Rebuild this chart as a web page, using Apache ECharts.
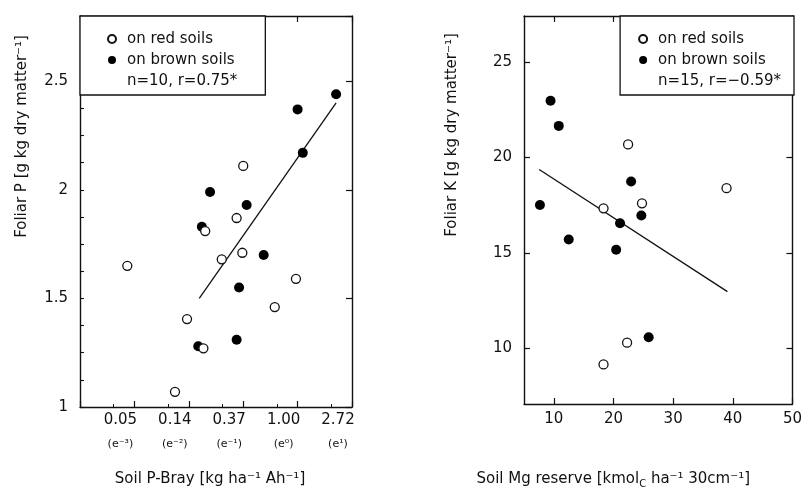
<!DOCTYPE html>
<html>
<head>
<meta charset="utf-8">
<script src="https://cdn.jsdelivr.net/npm/echarts@6/dist/echarts.min.js"></script>
<style>
  html, body { margin: 0; background: #fff; }
  #chart { width: 805px; height: 494px; }
</style>
</head>
<body>
<div id="chart"></div>
<script>
// Left panel: foliar P vs soil P-Bray (kg/ha, natural log axis)
const pRedSoils = [
  [0.368, 2.11], [0.326, 1.87], [0.183, 1.81], [0.248, 1.68], [0.362, 1.71],
  [0.0437, 1.65], [0.970, 1.59], [0.657, 1.46], [0.131, 1.405], [0.177, 1.27],
  [0.105, 1.07]
]
const pBrownSoils = [
  [2.03, 2.44], [1.00, 2.37], [1.10, 2.17], [0.200, 1.99], [0.392, 1.93],
  [0.172, 1.83], [0.536, 1.70], [0.341, 1.55], [0.161, 1.28], [0.326, 1.31]
]
const pFitLine = [[0.164, 1.50], [2.03, 2.40]]
const pBrayTicks = ['0.05', '0.14', '0.37', '1.00', '2.72']
const pBrayPowers = ['⁻³', '⁻²', '⁻¹', '⁰', '¹']

// Right panel: foliar K vs soil Mg reserve
const kRedSoils = [
  [22.45, 20.68], [38.95, 18.39], [18.33, 17.34], [24.78, 17.60],
  [22.28, 10.31], [18.33, 9.17]
]
const kBrownSoils = [
  [9.45, 22.97], [10.83, 21.65], [22.95, 18.74], [7.67, 17.51], [24.67, 16.96],
  [21.1, 16.56], [12.5, 15.71], [20.45, 15.17], [25.9, 10.59]
]
const kFitLine = [[7.55, 19.37], [39.1, 12.98]]
const mgTicks = [10, 20, 30, 40, 50]
const kTicks = [10, 15, 20, 25]

const FONT = 'DejaVu Sans'
const INK = '#111'
const line = { show: true, lineStyle: { color: INK, width: 1.4 } }
const textStyle = { fontFamily: FONT, color: INK, fontSize: 15 }

const chart = echarts.init(document.getElementById('chart'))

const openDot = {
  type: 'scatter', symbol: 'circle', symbolSize: 9,
  itemStyle: { color: '#fff', borderColor: INK, borderWidth: 1.3, opacity: 1 }, z: 3
}
const fullDot = {
  type: 'scatter', symbol: 'circle', symbolSize: 10,
  itemStyle: { color: '#000', opacity: 1 }, z: 2
}
const fit = {
  type: 'line', symbol: 'none', lineStyle: { color: INK, width: 1.3 },
  itemStyle: { color: INK }, z: 1
}

const legendBase = {
  orient: 'vertical',
  itemWidth: 20, itemHeight: 8, itemGap: 5,
  borderColor: INK, borderWidth: 1.3, borderRadius: 0,
  backgroundColor: '#fff',
  textStyle: { fontFamily: FONT, color: INK, fontSize: 15, lineHeight: 16 },
  selectedMode: false,
  data: [
    { name: 'on red soils' },
    { name: 'on brown soils' }
  ]
}

const option = {
  animation: false,
  textStyle: { fontFamily: FONT },
  grid: [
    { left: 80, top: 16, width: 272, height: 391 },
    { left: 524, top: 16, width: 270, height: 390 }
  ],
  legend: [
    Object.assign({}, legendBase, {
      left: 80, top: 16, padding: [15, 28, 6, 22],
      data: legendBase.data.concat([{ name: 'n=10, r=0.75*', icon: 'none' }])
    }),
    Object.assign({}, legendBase, {
      right: 11, top: 16, padding: [15, 13, 6, 13],
      data: legendBase.data.concat([{ name: 'n=15, r=−0.59*', icon: 'none' }])
    })
  ],
  xAxis: [
    {
      gridIndex: 0, type: 'log', logBase: Math.E,
      min: Math.exp(-4), max: Math.E, interval: 1,
      axisLine: line,
      axisTick: { inside: true, length: 6, lineStyle: { color: INK, width: 1.2 } },
      minorTick: { show: true, splitNumber: 2, length: 3, lineStyle: { color: INK, width: 1 } },
      splitLine: { show: false },
      axisLabel: {
        showMinLabel: false, margin: 5, align: 'center', padding: [0, 28, 0, 0],
        formatter: v => {
          const i = Math.round(Math.log(v)) + 3
          return '{a|' + pBrayTicks[i] + '}\n{b|(e' + pBrayPowers[i] + ')}'
        },
        rich: {
          a: { fontFamily: FONT, color: INK, fontSize: 15, lineHeight: 16 },
          b: { fontFamily: FONT, color: INK, fontSize: 11, lineHeight: 32 }
        }
      },
      name: 'Soil P-Bray [kg ha⁻¹ Ah⁻¹]', nameLocation: 'middle', nameGap: 65,
      nameTextStyle: Object.assign({}, textStyle, { padding: [0, 12, 0, 0] })
    },
    {
      gridIndex: 0, type: 'log', logBase: Math.E, position: 'top',
      min: Math.exp(-4), max: Math.E, interval: 1,
      axisLine: line,
      axisTick: { inside: true, length: 6, lineStyle: { color: INK, width: 1.2 } },
      axisLabel: { show: false }, splitLine: { show: false }
    },
    {
      gridIndex: 1, type: 'value', min: 5, max: 50,
      axisLine: line,
      axisTick: { inside: true, length: 6, customValues: mgTicks, lineStyle: { color: INK, width: 1.2 } },
      axisLabel: Object.assign({}, textStyle, { customValues: mgTicks, margin: 8 }),
      splitLine: { show: false },
      name: 'Soil Mg reserve [kmol{sub|C} ha⁻¹ 30cm⁻¹]', nameLocation: 'middle', nameGap: 66,
      nameTextStyle: Object.assign({}, textStyle, {
        padding: [0, 90, 0, 0],
        rich: { sub: { fontFamily: FONT, color: INK, fontSize: 10, padding: [9, 0, 0, 0] } }
      })
    },
    {
      gridIndex: 1, type: 'value', min: 5, max: 50, position: 'top',
      axisLine: line,
      axisTick: { inside: true, length: 6, customValues: mgTicks, lineStyle: { color: INK, width: 1.2 } },
      axisLabel: { show: false }, splitLine: { show: false }
    }
  ],
  yAxis: [
    {
      gridIndex: 0, type: 'value', min: 1, max: 2.8, interval: 0.125,
      axisLine: line,
      axisTick: { inside: true, length: 4, lineStyle: { color: INK, width: 1.1 } },
      axisLabel: Object.assign({}, textStyle, {
        margin: 12,
        formatter: v => (Math.abs(v * 2 - Math.round(v * 2)) < 1e-6 && v < 2.75 ? String(v) : '')
      }),
      splitLine: { show: false },
      name: 'Foliar P [g kg dry matter⁻¹]', nameLocation: 'middle', nameGap: 50,
      nameTextStyle: Object.assign({}, textStyle, { padding: [0, 0, 0, 150] })
    },
    {
      gridIndex: 0, type: 'value', min: 1, max: 2.8, interval: 0.5, position: 'right',
      axisLine: line,
      axisTick: { inside: true, length: 6, lineStyle: { color: INK, width: 1.2 } },
      axisLabel: { show: false }, splitLine: { show: false }
    },
    {
      gridIndex: 1, type: 'value', min: 7.1, max: 27.4,
      axisLine: line,
      axisTick: { inside: true, length: 6, customValues: kTicks, lineStyle: { color: INK, width: 1.2 } },
      axisLabel: Object.assign({}, textStyle, { customValues: kTicks, margin: 12 }),
      splitLine: { show: false },
      name: 'Foliar K [g kg dry matter⁻¹]', nameLocation: 'middle', nameGap: 64,
      nameTextStyle: Object.assign({}, textStyle, { padding: [0, 0, 0, 150] })
    },
    {
      gridIndex: 1, type: 'value', min: 7.1, max: 27.4, position: 'right',
      axisLine: line,
      axisTick: { inside: true, length: 6, customValues: kTicks, lineStyle: { color: INK, width: 1.2 } },
      axisLabel: { show: false }, splitLine: { show: false }
    }
  ],
  series: [
    Object.assign({}, fit, { name: 'n=10, r=0.75*', xAxisIndex: 0, yAxisIndex: 0, data: pFitLine }),
    Object.assign({}, fullDot, { name: 'on brown soils', xAxisIndex: 0, yAxisIndex: 0, data: pBrownSoils }),
    Object.assign({}, openDot, { name: 'on red soils', xAxisIndex: 0, yAxisIndex: 0, data: pRedSoils }),
    Object.assign({}, fit, { name: 'n=15, r=−0.59*', xAxisIndex: 2, yAxisIndex: 2, data: kFitLine }),
    Object.assign({}, fullDot, { name: 'on brown soils', xAxisIndex: 2, yAxisIndex: 2, data: kBrownSoils }),
    Object.assign({}, openDot, { name: 'on red soils', xAxisIndex: 2, yAxisIndex: 2, data: kRedSoils })
  ]
}

chart.setOption(option)
</script>
</body>
</html>
